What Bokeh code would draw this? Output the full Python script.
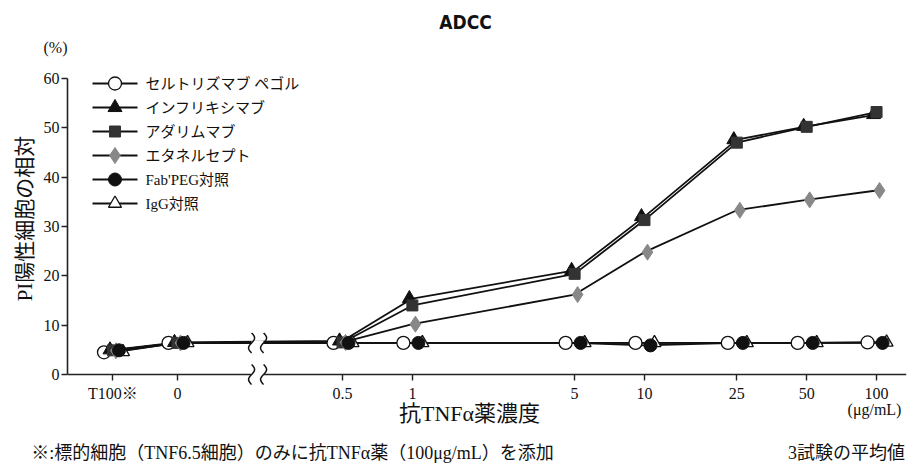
import math
import numpy as np
from bokeh.plotting import figure
from bokeh.models import (Range1d, LinearAxis, FixedTicker, Label,
                          ColumnDataSource, CustomJSTickFormatter)
from bokeh.transform import dodge
from bokeh.embed import file_html
from bokeh.resources import INLINE

# ---------------- data ----------------
x_labels = ["T100※", "0", "0.5", "1", "5", "10", "25", "50", "100"]
conc = [None, 0, 0.5, 1, 5, 10, 25, 50, 100]          # μg/mL (None = T100 control)
certolizumab = [4.5, 6.4, 6.4, 6.4, 6.4, 6.4, 6.4, 6.4, 6.5]
infliximab   = [5.0, 6.5, 6.8, 15.4, 21.1, 32.0, 47.6, 50.3, 52.7]
adalimumab   = [4.9, 6.4, 6.5, 14.0, 20.4, 31.3, 47.0, 50.2, 53.2]
etanercept   = [4.8, 6.4, 6.5, 10.2, 16.2, 24.8, 33.3, 35.4, 37.3]
fabpeg       = [4.9, 6.4, 6.4, 6.4, 6.4, 5.9, 6.4, 6.4, 6.4]
igg          = [4.6, 6.4, 6.4, 6.4, 6.4, 6.4, 6.4, 6.4, 6.5]
series_names = ["セルトリズマブ ペゴル", "インフリキシマブ", "アダリムマブ",
                "エタネルセプト", "Fab'PEG対照", "IgG対照"]
y_ticks = [0, 10, 20, 30, 40, 50, 60]
notes = ["※:標的細胞（TNF6.5細胞）のみに抗TNFα薬（100μg/mL）を添加", "3試験の平均値"]

# x layout: log10 scale for concentrations, fixed slots left of the axis break
special_slots = {"T100※": -1.29, "0": -1.012}
x_pos = [special_slots[l] if l in special_slots else math.log10(c)
         for l, c in zip(x_labels, conc)]
break_x = -0.667

SERIF = "Liberation Serif, 'Noto Sans CJK JP', serif"
INK = "#111"

# ---------------- geometry ----------------
W, H = 916, 470
FL, FR, FT, FB = 67, 906, 50, 386          # frame edges (page px)
X0, X1 = -1.486, 2.129
kx = (X1 - X0) / (FR - FL)
ky = 60.0 / (374 - 78)                      # data units per px (y)
Y0 = -(FB - 374) * ky
Y1 = 60 + (78 - FT) * ky

def px_x(px):                               # page x -> data x
    return X0 + (px - FL) * kx

def px_y(py):                               # page y -> data y
    return (374 - py) * ky

p = figure(width=W, height=H, output_backend="svg", toolbar_location=None,
           x_range=Range1d(X0, X1), y_range=Range1d(Y0, Y1),
           x_axis_type=None, y_axis_type=None,
           min_border_left=FL, min_border_right=W - FR, min_border_top=FT,
           min_border_bottom=H - FB)
p.outline_line_color = None
p.border_fill_color = "white"

# ---------------- axes ----------------
yaxis = LinearAxis(ticker=FixedTicker(ticks=y_ticks), bounds=(0, 60),
                   axis_label="PI陽性細胞の相対", axis_label_standoff=4,
                   axis_label_text_font=SERIF, axis_label_text_font_size="21px",
                   axis_label_text_font_style="normal", axis_label_text_color=INK)
yaxis.axis_line_color = "#222"
yaxis.axis_line_width = 1.6
yaxis.major_tick_line_color = "#222"
yaxis.major_tick_line_width = 1.4
yaxis.major_tick_in = 0
yaxis.major_tick_out = 6
yaxis.minor_tick_line_color = None
yaxis.major_label_text_font = SERIF
yaxis.major_label_text_font_size = "16px"
yaxis.major_label_text_color = INK
yaxis.major_label_standoff = 2
p.add_layout(yaxis, "left")

def text_axis(ticks, labels, size, standoff):
    ax = LinearAxis(ticker=FixedTicker(ticks=ticks),
                    formatter=CustomJSTickFormatter(args=dict(tvals=ticks, tlabs=labels), code="""
    for (let i = 0; i < tvals.length; i++) { if (Math.abs(tvals[i] - tick) < 1e-6) return tlabs[i]; }
    return "";
"""))
    ax.axis_line_color = None
    ax.major_tick_line_color = None
    ax.major_tick_in = 0
    ax.major_tick_out = 0
    ax.minor_tick_line_color = None
    ax.major_label_standoff = standoff
    ax.major_label_text_font = SERIF
    ax.major_label_text_font_size = size
    ax.major_label_text_color = INK
    return ax

# labels-only x axis (sits at frame bottom)
p.add_layout(text_axis(x_pos, x_labels, "16px", -2), "below")

# texts placed in the side panels
def panel_label(text, xpx, y, size, side, font=SERIF, style="normal"):
    p.add_layout(Label(x=px_x(xpx), y=y, x_units="data", y_units="screen", text=text,
                       text_font=font, text_font_size=size, text_align="center",
                       text_baseline="middle", text_color=INK, text_font_style=style), side)

panel_label("抗TNFα薬濃度", 469, 16.5, "22px", "below")
panel_label("(μg/mL)", 874, 37, "16px", "below")

# axis lines at y=0 split by the break (no labels, ticks drawn outward)
gap = 6 * kx
for ticks, bnds in [(x_pos[2:], (break_x + gap, X1)), (x_pos[:2], (X0, break_x - gap))]:
    ax = LinearAxis(ticker=FixedTicker(ticks=ticks), fixed_location=0, bounds=bnds,
                    formatter=CustomJSTickFormatter(code='return ""'))
    ax.axis_line_color = "#222"
    ax.axis_line_width = 1.6
    ax.major_tick_line_color = "#222"
    ax.major_tick_line_width = 1.4
    ax.major_tick_in = -6
    ax.major_tick_out = 0
    ax.minor_tick_line_color = None
    ax.major_label_standoff = 0
    ax.major_label_text_font_size = "0px"
    p.add_layout(ax, "below")

# footnotes as a text row at the very bottom
note_centers = [px_x(292), px_x(846)]
p.add_layout(text_axis(note_centers, notes, "18px", -4), "below")

# texts in the top panel
panel_label("(%)", 55, 3, "16px", "above")
panel_label("ADCC", 465, 12, "19px", "above",
            font="'Liberation Sans Narrow', 'DejaVu Sans Condensed', sans-serif", style="bold")

# ---------------- series ----------------
src = ColumnDataSource(dict(x=x_pos, cert=certolizumab, inf=infliximab, ada=adalimumab,
                            eta=etanercept, fab=fabpeg, igg=igg))
keys = ["cert", "inf", "ada", "eta", "fab", "igg"]
for k in keys:
    p.line("x", k, source=src, line_color=INK, line_width=1.8)

styles = {
    "cert": dict(marker="circle", size=13, fill_color="white", line_color=INK, line_width=1.3),
    "inf": dict(marker="triangle", size=14, fill_color=INK, line_color=INK, line_width=1),
    "ada": dict(marker="square", size=11, fill_color="#333", line_color="#333", line_width=1),
    "eta": dict(marker="diamond", size=16, fill_color="#888", line_color="#888", line_width=1),
    "fab": dict(marker="circle", size=13, fill_color=INK, line_color=INK, line_width=1),
    "igg": dict(marker="triangle", size=13, fill_color="white", line_color=INK, line_width=1.3),
}
offsets = {"cert": -9, "inf": -3, "ada": 0, "eta": 3, "igg": 10, "fab": 6}
for k in ["cert", "inf", "ada", "eta", "igg", "fab"]:
    p.scatter(dodge("x", offsets[k] * kx, range=p.x_range), k, source=src, **styles[k])

# break marks (on the data line and on the axis)
t = np.linspace(0, 1, 25)
for yc, cover in [(certolizumab[1], True), (0, False)]:
    hh = 10 * ky
    if cover:
        p.quad(left=[break_x - gap], right=[break_x + gap], bottom=[yc - 2.5 * ky],
               top=[yc + 2.5 * ky], fill_color="white", line_color=None)
    for off in (-6, 6):
        xs = break_x + off * kx - 3 * kx * np.sin(2 * np.pi * t)
        ys = yc + (t - 0.5) * 2 * hh
        p.line(list(xs), list(ys), line_color=INK, line_width=1.5)

# legend (drawn with the same glyph styles)
for i, (name, k) in enumerate(zip(series_names, keys)):
    yy = px_y(83 + 24 * i)
    p.line([px_x(92), px_x(137)], [yy, yy], line_color=INK, line_width=1.8)
    p.scatter([px_x(114.5)], [yy], **styles[k])
    p.add_layout(Label(x=px_x(145), y=yy, text=name, text_font=SERIF, text_font_size="15px",
                       text_align="left", text_baseline="middle", text_color=INK))

open("out.html", "w").write(file_html(p, INLINE))
